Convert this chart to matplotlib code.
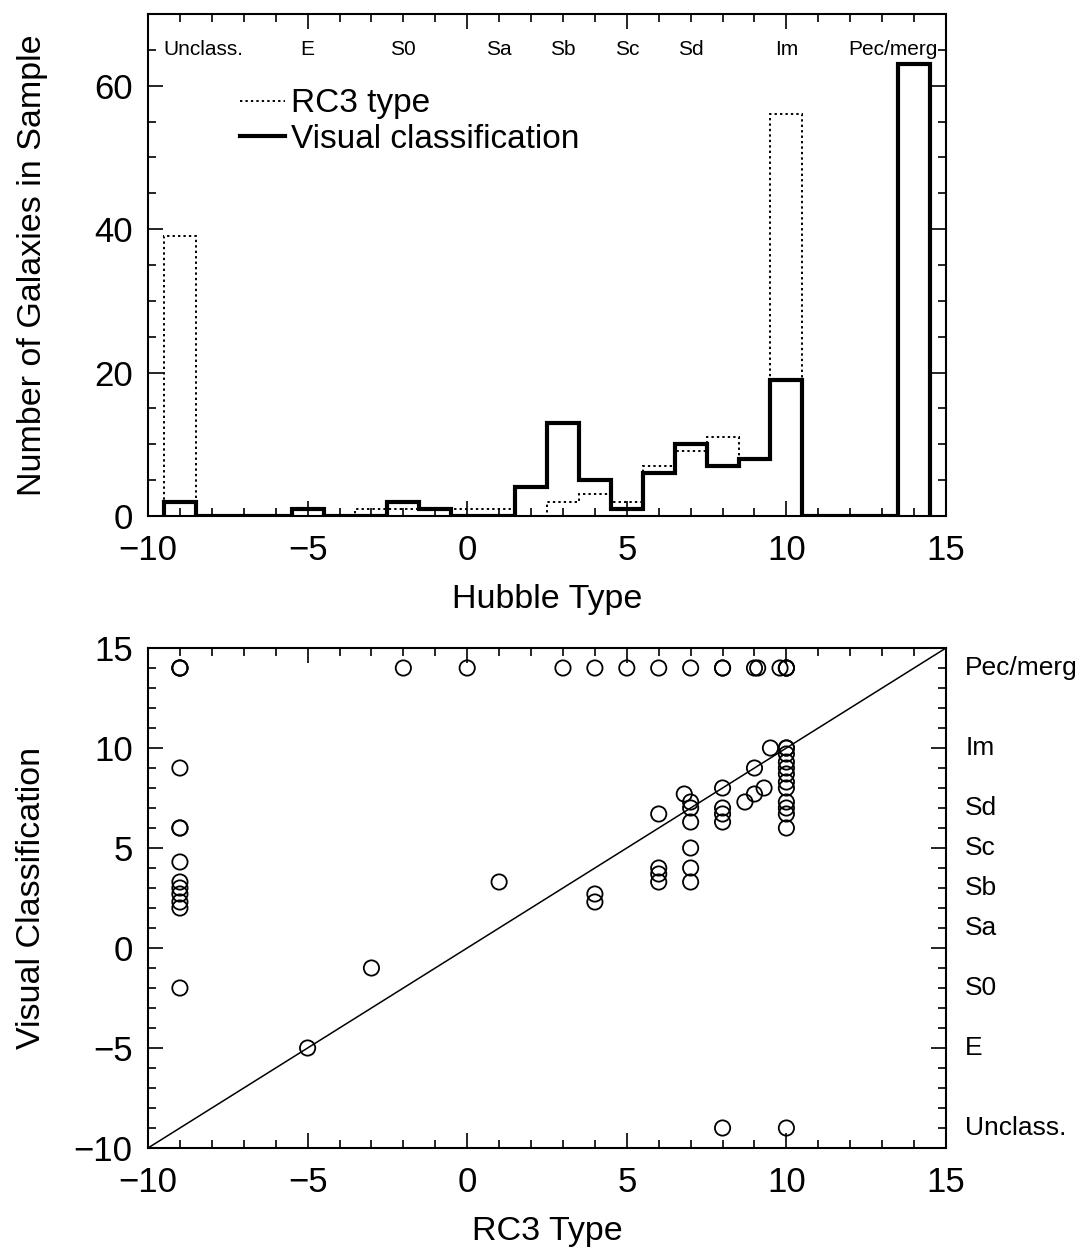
import matplotlib
matplotlib.use("Agg")
import matplotlib.pyplot as plt
import matplotlib.transforms as mtransforms
from matplotlib.lines import Line2D
from matplotlib.ticker import MultipleLocator
import numpy as np

plt.rcParams['font.family'] = ['Liberation Sans', 'DejaVu Sans']

# ---------------- data ----------------
hubble_bins = list(range(-9, 15))  # bin centres -9 .. 14
visual_counts = [2, 0, 0, 0, 1, 0, 0, 2, 1, 0, 0, 4, 13, 5, 1, 6, 10, 7, 8, 19, 0, 0, 0, 63]
rc3_counts = [39, 0, 0, 0, 1, 0, 1, 1, 1, 1, 1, 0, 2, 3, 2, 7, 9, 11, 8, 56, 0, 0, 0, 0]

type_names = ['Unclass.', 'E', 'S0', 'Sa', 'Sb', 'Sc', 'Sd', 'Im', 'Pec/merg']
type_values = [-9, -5, -2, 1, 3, 5, 7, 10, 14]

rc3_type = [-9, -9, -9, -2, 0, 3, 4, 5, 6, 7, 8, 8, 9.0, 9.1, 9.8, 10, 10, 10,
            -9, -9, -9, -9, -9, -9, -9, -9, -9, -9,
            1, -3, -5, 4, 4,
            6, 6, 6, 6, 6.8,
            7, 7, 7, 7, 7, 7,
            8, 8, 8, 8, 8.7,
            9, 9, 9.3, 9.5,
            10, 10, 10, 10, 10, 10, 10, 10, 10, 10, 10, 10,
            8, 10]
visual_type = [14, 14, 14, 14, 14, 14, 14, 14, 14, 14, 14, 14, 14, 14, 14, 14, 14, 14,
               9, 6, 6, 4.3, 3.3, 3.0, 2.7, 2.3, 2.0, -2,
               3.3, -1, -5, 2.7, 2.3,
               6.7, 4.0, 3.7, 3.3, 7.7,
               7.3, 7.0, 6.3, 5.0, 4.0, 3.3,
               8, 7, 6.7, 6.3, 7.3,
               9, 7.7, 8, 10,
               10, 10, 9.7, 9.3, 9.0, 8.7, 8.3, 8.0, 7.3, 7.0, 6.7, 6.0,
               -9, -9]

# ---------------- figure ----------------
W, H = 1084, 1249
fig = plt.figure(figsize=(W / 100, H / 100), dpi=100)

def px_axes(left, top, right, bottom):
    return fig.add_axes([left / W, 1 - bottom / H, (right - left) / W, (bottom - top) / H])

ax1 = px_axes(148, 14, 946, 516)
ax2 = px_axes(148, 648, 946, 1148)

def style_axes(ax):
    for s in ax.spines.values():
        s.set_linewidth(1.5)
    ax.tick_params(which='both', direction='in', top=True, right=True, width=1.2, labelsize=25)
    ax.tick_params(which='major', length=10.5)
    ax.tick_params(which='minor', length=5.5)
    ax.tick_params(axis='x', which='both', pad=13)
    ax.tick_params(axis='y', which='both', pad=11)

# ---------------- top: histogram ----------------
edges = np.array(hubble_bins + [hubble_bins[-1] + 1]) - 0.5
ax1.stairs(rc3_counts, edges, baseline=0, color='black', linestyle=(0, (1.2, 1.6)), linewidth=1.4)
ax1.stairs(visual_counts, edges, baseline=0, color='black', linewidth=3.0)
ax1.set_xlim(-10, 15)
ax1.set_ylim(0, 70)
ax1.xaxis.set_major_locator(MultipleLocator(5))
ax1.xaxis.set_minor_locator(MultipleLocator(1))
ax1.yaxis.set_major_locator(MultipleLocator(20))
ax1.yaxis.set_minor_locator(MultipleLocator(5))
style_axes(ax1)
ax1.set_xlabel('Hubble Type', fontsize=24.5, labelpad=12)
ax1.set_ylabel('Number of Galaxies in Sample', fontsize=24.5, labelpad=33)

for name, val in zip(type_names, type_values):
    if name == 'Unclass.':
        ax1.text(val - 0.53, 65, name, ha='left', va='center', fontsize=15)
    elif name == 'Pec/merg':
        ax1.text(val + 0.75, 65, name, ha='right', va='center', fontsize=15)
    else:
        ax1.text(val, 65, name, ha='center', va='center', fontsize=15)

handles = [Line2D([], [], color='black', linestyle=(0, (1.2, 1.6)), linewidth=1.4),
           Line2D([], [], color='black', linewidth=3.0)]
ax1.legend(handles, ['RC3 type', 'Visual classification'], loc='upper left',
           bbox_to_anchor=(0.115, 0.852), frameon=False, fontsize=24,
           handlelength=1.35, handletextpad=0.2, labelspacing=0.14,
           borderpad=0, borderaxespad=0)

# ---------------- bottom: scatter ----------------
ax2.plot([-10, 15], [-10, 15], color='black', linewidth=1.1)
ax2.scatter(rc3_type, visual_type, s=11 ** 2, facecolors='none', edgecolors='black',
            linewidths=1.3, zorder=3, clip_on=False)
ax2.set_xlim(-10, 15)
ax2.set_ylim(-10, 15)
ax2.xaxis.set_major_locator(MultipleLocator(5))
ax2.xaxis.set_minor_locator(MultipleLocator(1))
ax2.yaxis.set_major_locator(MultipleLocator(5))
ax2.yaxis.set_minor_locator(MultipleLocator(1))
style_axes(ax2)
ax2.set_xlabel('RC3 Type', fontsize=24.5, labelpad=12)
ax2.set_ylabel('Visual Classification', fontsize=24.5, labelpad=19)

trans = mtransforms.blended_transform_factory(ax2.transAxes, ax2.transData)
for name, val in zip(type_names, type_values):
    ax2.text(1.024, val, name, transform=trans, ha='left', va='center', fontsize=19)

fig.savefig('out.png', dpi=100)
